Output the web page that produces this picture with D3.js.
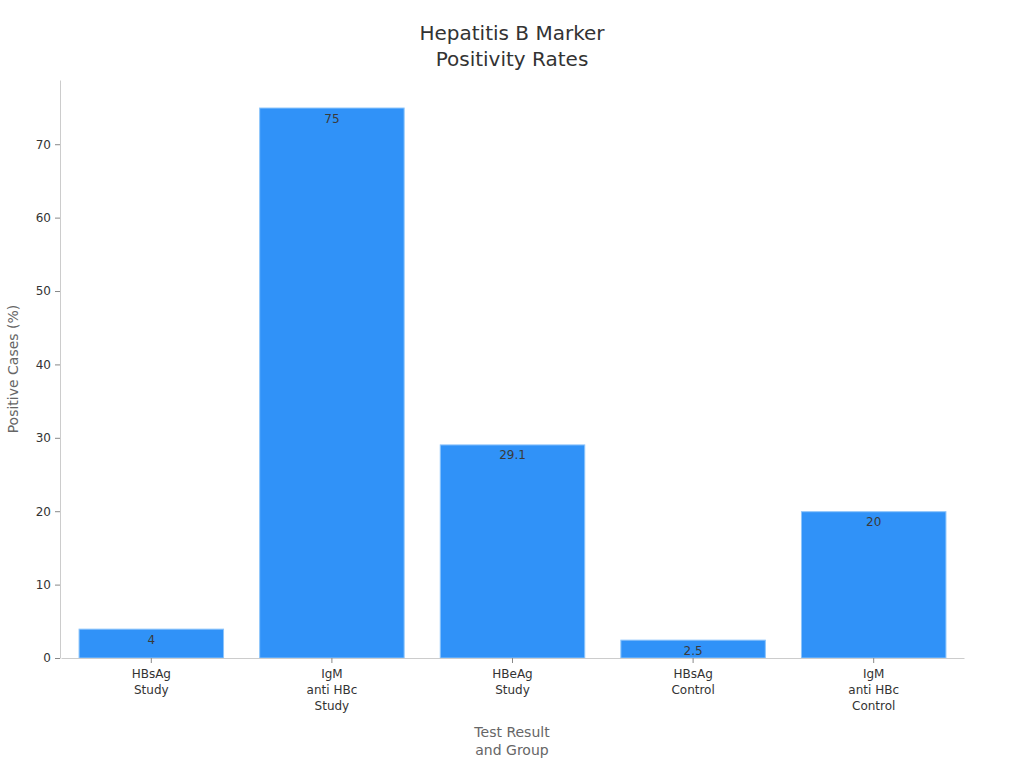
<!DOCTYPE html>
<html>
<head>
<meta charset="utf-8">
<script src="https://cdn.jsdelivr.net/npm/d3@7"></script>
<style>
  body { margin: 0; background: #fff; }
  svg { font-family: "DejaVu Sans", sans-serif; }
</style>
</head>
<body>
<svg id="chart" width="1024" height="768"></svg>
<script>
// Chart data
const categories = [
    ["HBsAg", "Study"],
    ["IgM", "anti HBc", "Study"],
    ["HBeAg", "Study"],
    ["HBsAg", "Control"],
    ["IgM", "anti HBc", "Control"]
];
const values = [4, 75, 29.1, 2.5, 20];
const yTicks = [0, 10, 20, 30, 40, 50, 60, 70];

const width = 1024;
const height = 768;
const margin = { top: 80, right: 61, bottom: 110, left: 60 };

const svg = d3.select("#chart");

const keys = categories.map(c => c.join(" "));

const xScale = d3.scaleBand()
    .domain(keys)
    .range([margin.left + 1, width - margin.right + 1])
    .paddingInner(0.2)
    .paddingOuter(0.1);

const yScale = d3.scaleLinear()
    .domain([0, d3.max(values) * 1.05])
    .range([height - margin.bottom, margin.top]);

// Title
svg.append("text")
    .attr("x", 512)
    .attr("text-anchor", "middle")
    .attr("fill", "#333")
    .style("font-size", "20px")
    .selectAll("tspan")
    .data(["Hepatitis B Marker", "Positivity Rates"])
    .join("tspan")
    .attr("x", 512)
    .attr("y", (d, i) => 40 + i * 26)
    .text(d => d);

// Bars
svg.append("g")
    .selectAll("rect")
    .data(values)
    .join("rect")
    .attr("x", (d, i) => xScale(keys[i]))
    .attr("y", d => yScale(d) + 0.5)
    .attr("width", xScale.bandwidth())
    .attr("height", d => yScale(0) - yScale(d) - 0.5)
    .attr("fill", "#3092f8")
    .attr("stroke", "#8cc4fb")
    .attr("stroke-width", 1);

// Value labels
svg.append("g")
    .selectAll("text")
    .data(values)
    .join("text")
    .attr("x", (d, i) => xScale(keys[i]) + xScale.bandwidth() / 2)
    .attr("y", d => yScale(d) + 15)
    .attr("text-anchor", "middle")
    .attr("fill", "#3a3a3a")
    .style("font-size", "12px")
    .text(d => d);

// Y axis
const yAxis = svg.append("g")
    .attr("transform", `translate(${margin.left},0)`)
    .call(d3.axisLeft(yScale).tickValues(yTicks).tickSize(5).tickPadding(4).tickSizeOuter(0));
yAxis.select(".domain").attr("stroke", "#ccc");
yAxis.selectAll(".tick line").attr("stroke", "#888");
yAxis.selectAll(".tick text").attr("fill", "#333").style("font-size", "12px")
    .style("font-family", "DejaVu Sans, sans-serif");

// X axis
const xAxis = svg.append("g")
    .attr("transform", `translate(0,${height - margin.bottom})`)
    .call(d3.axisBottom(xScale).tickSize(5).tickSizeOuter(0));
xAxis.select(".domain").attr("stroke", "#ccc");
xAxis.selectAll(".tick line").attr("stroke", "#888");
xAxis.selectAll(".tick text").remove();
xAxis.selectAll(".tick")
    .append("text")
    .attr("fill", "#333")
    .attr("text-anchor", "middle")
    .style("font-size", "12px")
    .style("font-family", "DejaVu Sans, sans-serif")
    .each(function(d, i) {
        d3.select(this).selectAll("tspan")
            .data(categories[i])
            .join("tspan")
            .attr("x", 0)
            .attr("y", (t, j) => 20 + j * 16)
            .text(t => t);
    });

// Axis titles
svg.append("text")
    .attr("text-anchor", "middle")
    .attr("fill", "#666")
    .style("font-size", "14px")
    .selectAll("tspan")
    .data(["Test Result", "and Group"])
    .join("tspan")
    .attr("x", 512)
    .attr("y", (d, i) => 737 + i * 18)
    .text(d => d);

svg.append("text")
    .attr("transform", `translate(18,${(margin.top + height - margin.bottom) / 2}) rotate(-90)`)
    .attr("text-anchor", "middle")
    .attr("fill", "#666")
    .style("font-size", "14px")
    .text("Positive Cases (%)");
</script>
</body>
</html>
